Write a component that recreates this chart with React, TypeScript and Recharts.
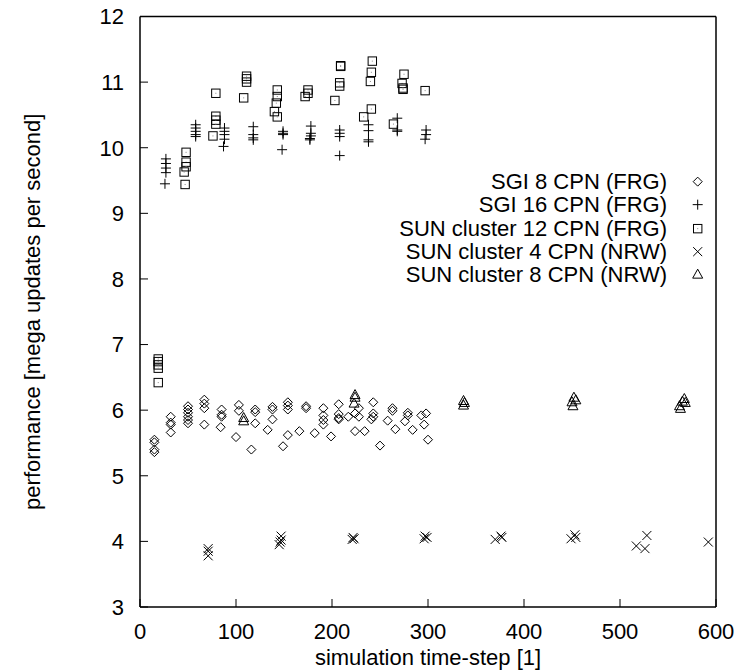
import { ScatterChart, Scatter, XAxis, YAxis, Legend } from 'recharts';

const FONT = '"Liberation Sans", Arial, sans-serif';

const xTicks = [0, 100, 200, 300, 400, 500, 600];
const yTicks = [3, 4, 5, 6, 7, 8, 9, 10, 11, 12];

// [time-step, mega updates per second]
const sgi8: [number, number][] = [
  [15, 5.55], [15, 5.51], [15, 5.4], [15, 5.36],
  [32, 5.9], [32, 5.81], [32, 5.78], [32, 5.66],
  [50, 6.06], [50, 6.01], [50, 5.96], [50, 5.9], [50, 5.85], [50, 5.8],
  [67, 6.16], [67, 6.1], [67, 6.03], [67, 5.78],
  [85, 6.01], [85, 5.93], [85, 5.9], [84, 5.74],
  [100, 5.59], [103, 6.08], [103, 5.99],
  [116, 5.4], [120, 6.01], [120, 5.97], [120, 5.8],
  [133, 5.7], [138, 6.05], [138, 6.01], [138, 5.86],
  [149, 5.45], [154, 6.12], [154, 6.07], [154, 6.01], [154, 5.62],
  [166, 5.68], [173, 6.06], [173, 6.03], [182, 5.65],
  [191, 6.03], [191, 5.92], [191, 5.85], [191, 5.78], [199, 5.6],
  [207, 6.09], [207, 5.94], [207, 5.88], [207, 5.86],
  [217, 5.9], [224, 5.95], [224, 5.68], [228, 6.03], [228, 5.9], [234, 5.68],
  [241, 5.86], [243, 6.12], [243, 5.95], [243, 5.9], [250, 5.46],
  [258, 5.84], [263, 6.03], [263, 5.99], [266, 5.71],
  [276, 5.83], [279, 5.96], [279, 5.92], [284, 5.7],
  [293, 5.92], [296, 5.78], [298, 5.95], [300, 5.55],
];

const sgi16: [number, number][] = [
  [27, 9.83], [27, 9.76], [27, 9.69], [27, 9.62], [26, 9.45],
  [58, 10.35], [58, 10.3], [58, 10.25], [58, 10.2], [58, 10.17],
  [88, 10.3], [88, 10.25], [88, 10.2], [88, 10.13], [87, 10.02],
  [118, 10.32], [118, 10.2], [118, 10.15], [118, 10.12],
  [149, 10.25], [149, 10.22], [149, 10.2], [148, 9.97],
  [178, 10.33], [178, 10.22], [178, 10.18], [177, 10.14], [177, 10.12],
  [208, 10.27], [208, 10.22], [208, 10.17], [208, 9.88],
  [238, 10.35], [238, 10.26], [238, 10.12], [238, 10.09],
  [268, 10.45], [268, 10.27], [268, 10.25],
  [298, 10.27], [298, 10.2], [297, 10.13],
];

const sun12: [number, number][] = [
  [19, 6.78], [19, 6.74], [19, 6.69], [19, 6.64], [19, 6.42],
  [48, 9.93], [48, 9.78], [48, 9.71], [46, 9.63], [47, 9.44],
  [79, 10.83], [79, 10.48], [79, 10.42], [79, 10.36], [76, 10.18],
  [111, 11.09], [111, 11.05], [111, 11.0], [108, 10.76],
  [143, 10.88], [143, 10.78], [142, 10.68], [140, 10.55], [143, 10.47],
  [175, 10.88], [175, 10.83], [172, 10.78],
  [209, 11.25], [209, 11.24], [208, 10.99], [208, 10.94], [203, 10.72],
  [242, 11.32], [241, 11.15], [240, 11.01], [241, 10.59], [233, 10.47],
  [275, 11.12], [273, 10.98], [274, 10.91], [274, 10.89], [264, 10.36],
  [297, 10.87],
];

const sun4: [number, number][] = [
  [71, 3.89], [71, 3.85], [71, 3.78],
  [147, 4.08], [146, 3.99], [145, 3.95], [147, 4.02],
  [222, 4.06], [223, 4.04], [221, 4.03],
  [297, 4.08], [299, 4.06], [296, 4.04],
  [370, 4.03], [376, 4.08], [377, 4.06],
  [449, 4.04], [453, 4.1], [454, 4.06],
  [517, 3.93], [528, 4.09], [526, 3.89],
  [592, 3.99],
];

const sun8: [number, number][] = [
  [108, 5.88], [108, 5.83],
  [224, 6.23], [224, 6.19], [223, 6.1],
  [337, 6.14], [338, 6.11], [337, 6.07],
  [450, 6.12], [452, 6.19], [454, 6.15], [451, 6.06],
  [562, 6.06], [565, 6.13], [567, 6.17], [568, 6.11], [563, 6.02],
];

const toPoints = (pts: [number, number][]) => pts.map(([x, y]) => ({ x, y }));

const stroke = { fill: 'none', stroke: '#000', strokeWidth: 1 };

const Diamond = ({ cx, cy }: any) => (
  <path d={`M${cx},${cy - 4.5}L${cx + 4.5},${cy}L${cx},${cy + 4.5}L${cx - 4.5},${cy}Z`} {...stroke} />
);
const Plus = ({ cx, cy }: any) => (
  <path d={`M${cx - 5},${cy}H${cx + 5}M${cx},${cy - 5}V${cy + 5}`} {...stroke} />
);
const Square = ({ cx, cy }: any) => (
  <g>
    <rect x={cx - 4.2} y={cy - 4.2} width={8.4} height={8.4} {...stroke} />
    <rect x={cx - 0.5} y={cy - 0.5} width={1} height={1} fill="#888" />
  </g>
);
const Cross = ({ cx, cy }: any) => (
  <path d={`M${cx - 4.5},${cy - 4.5}L${cx + 4.5},${cy + 4.5}M${cx - 4.5},${cy + 4.5}L${cx + 4.5},${cy - 4.5}`} {...stroke} />
);
const Triangle = ({ cx, cy }: any) => (
  <path d={`M${cx},${cy - 5.5}L${cx + 5},${cy + 3.5}L${cx - 5},${cy + 3.5}Z`} {...stroke} />
);

const series = [
  { name: 'SGI 8 CPN (FRG)', data: sgi8, Shape: Diamond },
  { name: 'SGI 16 CPN (FRG)', data: sgi16, Shape: Plus },
  { name: 'SUN cluster 12 CPN (FRG)', data: sun12, Shape: Square },
  { name: 'SUN cluster 4 CPN (NRW)', data: sun4, Shape: Cross },
  { name: 'SUN cluster 8 CPN (NRW)', data: sun8, Shape: Triangle },
];

const renderLegend = () => (
  <div style={{ fontFamily: FONT, fontSize: 22, color: '#000' }}>
    {series.map(({ name, Shape }) => (
      <div key={name} style={{ display: 'flex', height: 23.3, lineHeight: '23.3px' }}>
        <div style={{ width: 667, textAlign: 'right', whiteSpace: 'nowrap' }}>{name}</div>
        <svg width={60} height={23.3} style={{ display: 'block' }}>
          <Shape cx={30.7} cy={11.65} />
        </svg>
      </div>
    ))}
  </div>
);

const tickFont = { fill: '#000', fontSize: 22, fontFamily: FONT };
const noLabel = () => <g />;
const axisLine = { stroke: '#000', strokeWidth: 1.5 };
const tickLine = { stroke: '#000' };

export default function App() {
  return (
    <div style={{ position: 'absolute', left: 0, top: 0, background: '#fff' }}>
      <ScatterChart width={739} height={672} margin={{ top: 15.5, right: 22, bottom: 0, left: 0 }}>
        <XAxis
          xAxisId="b"
          type="number"
          dataKey="x"
          domain={[0, 600]}
          ticks={xTicks}
          height={65}
          tickSize={-8}
          tickMargin={24}
          tick={tickFont}
          axisLine={axisLine}
          tickLine={tickLine}
          label={{ value: 'simulation time-step [1]', position: 'insideBottom', offset: 7, style: { ...tickFont } }}
        />
        <XAxis
          xAxisId="t"
          orientation="top"
          type="number"
          dataKey="x"
          domain={[0, 600]}
          ticks={xTicks}
          height={1}
          tickSize={-8}
          tick={noLabel}
          axisLine={axisLine}
          tickLine={tickLine}
        />
        <YAxis
          yAxisId="l"
          type="number"
          dataKey="y"
          domain={[3, 12]}
          ticks={yTicks}
          width={140}
          tickSize={-8}
          tickMargin={24}
          tick={tickFont}
          axisLine={axisLine}
          tickLine={tickLine}
          label={{
            value: 'performance [mega updates per second]',
            angle: -90,
            position: 'insideLeft',
            offset: 32,
            style: { ...tickFont, textAnchor: 'middle' },
          }}
        />
        <YAxis
          yAxisId="r"
          orientation="right"
          type="number"
          dataKey="y"
          domain={[3, 12]}
          ticks={yTicks}
          width={1}
          tickSize={-8}
          tick={noLabel}
          axisLine={axisLine}
          tickLine={tickLine}
        />
        {series.map(({ name, data, Shape }) => (
          <Scatter
            key={name}
            name={name}
            xAxisId="b"
            yAxisId="l"
            data={toPoints(data)}
            shape={(p: any) => <Shape cx={p.cx} cy={p.cy} />}
            isAnimationActive={false}
          />
        ))}
        <Legend
          layout="vertical"
          align="center"
          verticalAlign="middle"
          content={renderLegend}
          wrapperStyle={{ left: 0, top: 170, width: 739 }}
        />
      </ScatterChart>
    </div>
  );
}
